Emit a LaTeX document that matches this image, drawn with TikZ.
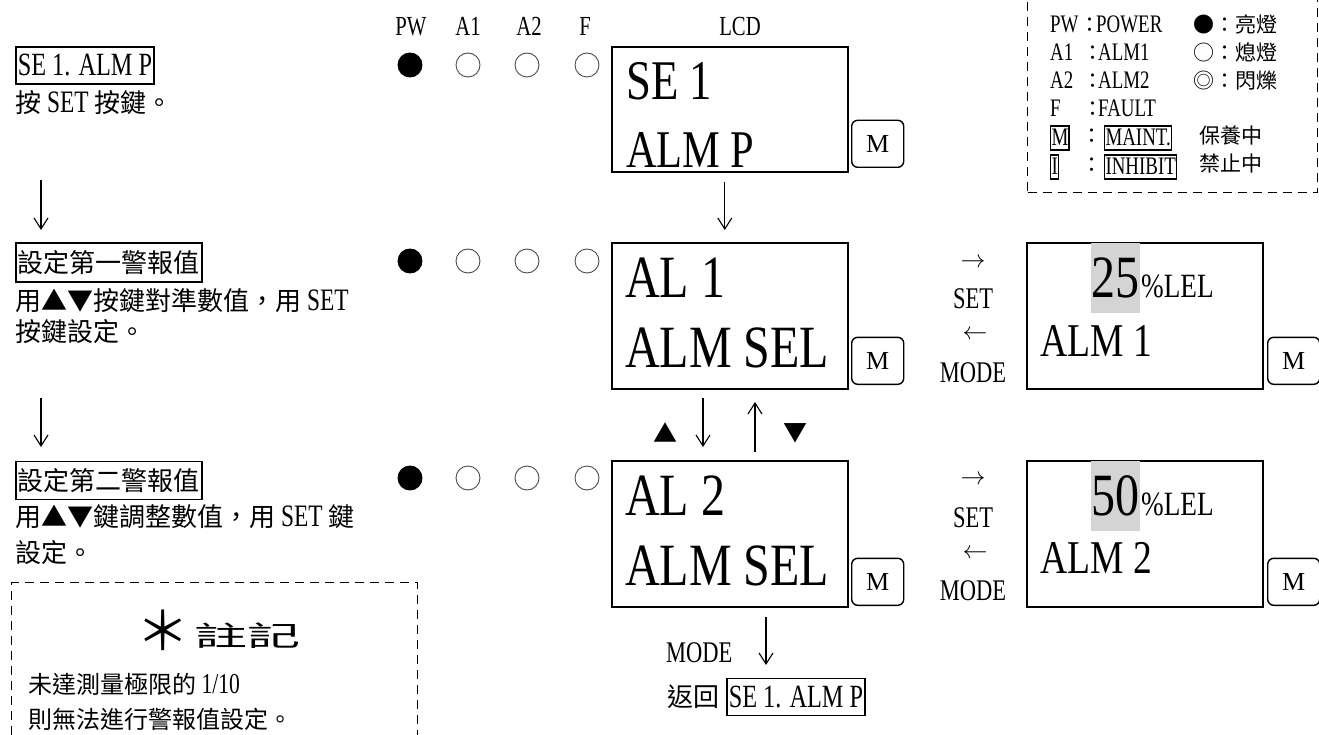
\documentclass[tikz,border=0pt]{standalone}
\usepackage{fontspec}
\usepackage{graphicx}
\setmainfont{Liberation Serif}[Scale=1.2,FakeStretch=0.75]
\newfontfamily\cjk{Noto Sans CJK TC}
\newfontfamily\lcdfont{Liberation Serif}[FakeStretch=0.8]
\newfontfamily\keyfont{Liberation Serif}
\usetikzlibrary{arrows.meta,positioning}

\newcommand{\zh}[1]{{\cjk #1}}
\newcommand{\fs}[1]{\fontsize{#1}{#1}\selectfont}

\begin{document}
\begin{tikzpicture}[x=1pt, y=-1pt,
    lamp/.style={circle, draw=black!70, line width=0.9pt, minimum size=24pt, inner sep=0pt},
    lampon/.style={lamp, draw=black, fill=black},
    head/.style={anchor=base, inner sep=0pt, font=\fs{23}},
    lcdbox/.style={rectangle, draw, line width=1.6pt, minimum width=236pt, anchor=north west, inner sep=0pt},
    lcdtext/.style={anchor=base west, inner sep=0pt, font={\lcdfont\fs{#1}}},
    hilite/.style={fill=black!17, minimum width=49pt, minimum height=70pt, inner sep=0pt, font={\lcdfont\fs{60}}},
    mkey/.style={rectangle, draw, rounded corners=6pt, line width=1.4pt, minimum width=52pt, minimum height=47pt, inner sep=0pt, anchor=south west, font={\keyfont\fs{26}}},
    tag/.style={rectangle, draw, line width=1.5pt, inner xsep=2pt, inner ysep=0pt, anchor=west},
    body/.style={anchor=base west, inner sep=0pt, font=\fs{26}},
    keylabel/.style={anchor=base, inner sep=0pt, font=\fs{25}},
    flow/.style={-{Straight Barb[length=11pt,width=14pt]}, line width=1.1pt},
    dashbox/.style={rectangle, draw, dash pattern=on 9pt off 6pt, line width=1.4pt, inner sep=0pt},
    legtext/.style={anchor=base west, inner sep=0pt, font=\fs{21}},
    legtag/.style={legtext, draw, line width=1.4pt, inner xsep=0.8pt, text height=19pt, text depth=3pt, inner ysep=1pt}
]
\useasboundingbox (0,0) rectangle (1319,735);

% Lamp headers
\node[head] (hPW) at (411,36) {PW};
\node[head] (hA1) at (468,36) {A1};
\node[head] (hA2) at (529,36) {A2};
\node[head] (hF) at (585,36) {F};
\node[head] (hLCD) at (740,36) {LCD};

% Lamps, one row per step
\node[lampon] (pw1) at (410,65) {};
\node[lamp] (a11) at (468,65) {};
\node[lamp] (a21) at (527,65) {};
\node[lamp] (f1) at (587,65) {};
\node[lampon] (pw2) at (410,261) {};
\node[lamp] (a12) at (468,261) {};
\node[lamp] (a22) at (527,261) {};
\node[lamp] (f2) at (587,261) {};
\node[lampon] (pw3) at (410,478) {};
\node[lamp] (a13) at (468,478) {};
\node[lamp] (a23) at (527,478) {};
\node[lamp] (f3) at (587,478) {};

% LCD screens
\node[lcdbox, minimum height=125pt] (lcd1) at (611,46) {};
\node[lcdtext=56] (lcd1a) at (626,100) {SE 1};
\node[lcdtext=53] (lcd1b) at (626,168) {ALM P};
\node[mkey] (key1) at (851,168) {M};

\node[lcdbox, minimum height=146pt] (lcd2) at (611,242) {};
\node[lcdtext=60] (lcd2a) at (625,297) {AL 1};
\node[lcdtext=60] (lcd2b) at (625,367) {ALM SEL};
\node[mkey] (key2) at (851,385) {M};

\node[lcdbox, minimum height=146pt] (lcd3) at (611,460) {};
\node[lcdtext=60] (lcd3a) at (625,515) {AL 2};
\node[lcdtext=60] (lcd3b) at (625,585) {ALM SEL};
\node[mkey] (key3) at (851,606) {M};

% Value screens
\node[lcdbox, minimum height=146pt] (val1) at (1026,242) {};
\node[hilite] (num1) at (1115.5,278) {25};
\node[lcdtext=34] (unit1) at (1141,297) {\%LEL};
\node[lcdtext=47] (val1b) at (1040,356) {ALM 1};
\node[mkey] (key4) at (1267,385) {M};

\node[lcdbox, minimum height=146pt] (val2) at (1026,460) {};
\node[hilite] (num2) at (1115.5,496) {50};
\node[lcdtext=34] (unit2) at (1141,515) {\%LEL};
\node[lcdtext=47] (val2b) at (1040,573) {ALM 2};
\node[mkey] (key5) at (1267,606) {M};

% SET / MODE between the screens
\node[keylabel, font=\fs{24}] (go1) at (973,268) {$\rightarrow$};
\node[keylabel] (set1) at (973,308) {SET};
\node[keylabel, font=\fs{24}] (back1) at (975,339) {$\leftarrow$};
\node[keylabel] (mode1) at (973,382) {MODE};
\node[keylabel, font=\fs{24}] (go2) at (973,484) {$\rightarrow$};
\node[keylabel] (set2) at (973,527) {SET};
\node[keylabel, font=\fs{24}] (back2) at (975,558) {$\leftarrow$};
\node[keylabel] (mode2) at (973,600) {MODE};

% Flow between screens
\draw[flow, shorten <=9pt, shorten >=12pt] ([xshift=-5pt]lcd1.south) -- ([xshift=-5pt]lcd2.north);
\coordinate (dnA) at (703,398);
\coordinate (dnB) at (703,447);
\coordinate (upA) at (755,452);
\coordinate (upB) at (755,402);
\draw[flow] (dnA) -- (dnB);
\draw[flow] (upA) -- (upB);
\node[font={\cjk\fs{24}}] (upkey) at (665,433) {▲};
\node[font={\cjk\fs{24}}] (downkey) at (795,433) {▼};

% Back to start
\coordinate (retA) at (766,617);
\coordinate (retB) at (766,665);
\draw[flow] (retA) -- (retB);
\node[body, font=\fs{25}] (retmode) at (666,662) {MODE};
\node[body] (ret) at (667,706) {\zh{返回}};
\node[tag, minimum height=37pt, font=\fs{27}] (rettag) at (726,697) {SE 1. ALM P};

% Left column steps
\node[tag, minimum height=37pt, font=\fs{27}] (stepA) at (15,65.5) {SE 1. ALM P};
\node[body] (stepAtxt) at (15,113) {\zh{按} SET \zh{按鍵。}};
\coordinate (lfA) at (41,180);
\coordinate (lfB) at (41,230);
\draw[flow] (lfA) -- (lfB);

\node[tag, minimum height=39pt, font={\cjk\fs{26}}] (stepB) at (15,262.5) {設定第一警報值};
\node[body] (stepBtxt1) at (15,310) {\zh{用▲▼按鍵對準數值，用} SET};
\node[body] (stepBtxt2) at (15,341) {\zh{按鍵設定。}};
\coordinate (lfC) at (41,398);
\coordinate (lfD) at (41,447);
\draw[flow] (lfC) -- (lfD);

\node[tag, minimum height=38pt, font={\cjk\fs{26}}] (stepC) at (15,480.5) {設定第二警報值};
\node[body] (stepCtxt1) at (15,526) {\zh{用▲▼鍵調整數值，用} SET \zh{鍵}};
\node[body] (stepCtxt2) at (15,562) {\zh{設定。}};

% Note box
\node[dashbox, anchor=north west, minimum width=406pt, minimum height=200pt] (note) at (11,582) {};
\node[font={\cjk\fs{28}}] (notetitle) at (219,630) {\raisebox{-4pt}{\scalebox{1.9}{＊}}\,\scalebox{1.9}[1]{註記}};
\node[body, font=\fs{24}] (note1) at (28,693) {\zh{未達測量極限的} 1/10};
\node[body, font=\fs{24}] (note2) at (28,728) {\zh{則無法進行警報值設定。}};

% Legend
\node[dashbox, anchor=south west, minimum width=290pt, minimum height=240pt] (legend) at (1027,193) {};
\node[legtext] (kPW) at (1050,33) {PW};
\node[legtext] (kA1) at (1050,61) {A1};
\node[legtext] (kA2) at (1050,89) {A2};
\node[legtext] (kF) at (1050,117) {F};
\node[legtag] (kM) at (1050,146) {M};
\node[legtag] (kI) at (1050,175) {I};
\node[legtext] (vPW) at (1079,33) {\zh{：}\kern-4pt POWER};
\node[legtext] (vA1) at (1082,61) {\zh{：}\kern-5pt ALM1};
\node[legtext] (vA2) at (1082,89) {\zh{：}\kern-5pt ALM2};
\node[legtext] (vF) at (1082,117) {\zh{：}\kern-5pt FAULT};
\node[legtext] (cM) at (1081,144) {\zh{：}};
\node[legtext] (cI) at (1081,173) {\zh{：}};
\node[legtag] (vM) at (1104,146) {MAINT.};
\node[legtag] (vI) at (1104,175) {INHIBIT};
\node[legtext, font={\cjk\fs{21}}] (sOn) at (1193,33) {●：亮燈};
\node[legtext, font={\cjk\fs{21}}] (sOff) at (1193,61) {○：熄燈};
\node[legtext, font={\cjk\fs{21}}] (sBlink) at (1193,89) {◎：閃爍};
\node[legtext, font={\cjk\fs{21}}] (sMaint) at (1199,144) {保養中};
\node[legtext, font={\cjk\fs{21}}] (sInhibit) at (1199,172) {禁止中};

\end{tikzpicture}
\end{document}
